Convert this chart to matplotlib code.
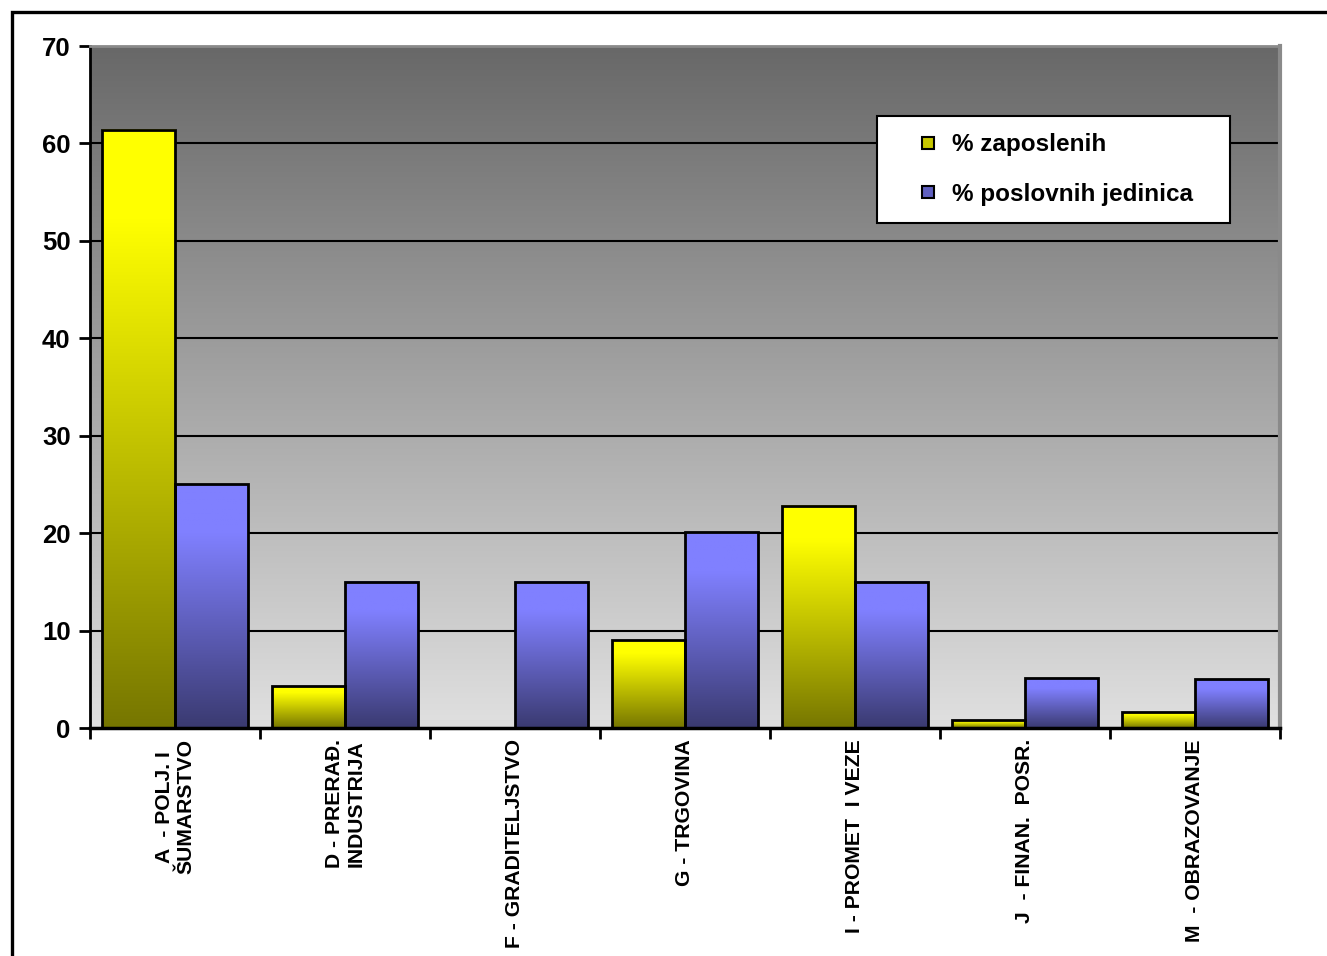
import numpy as np
import matplotlib
matplotlib.use("Agg")
import matplotlib.pyplot as plt
from matplotlib.colors import LinearSegmentedColormap
from matplotlib.lines import Line2D
from matplotlib.patches import Rectangle

# --- Data ---
categories = [
    "A  - POLJ. I\nŠUMARSTVO",
    "D - PRERAĐ.\nINDUSTRIJA",
    "F - GRADITELJSTVO",
    "G - TRGOVINA",
    "I - PROMET  I VEZE",
    "J  - FINAN.  POSR.",
    "M  - OBRAZOVANJE",
]
zaposlenih = [61.4, 4.3, 0.0, 9.0, 22.8, 0.8, 1.6]
poslovnih_jedinica = [25.0, 15.0, 15.0, 20.1, 15.0, 5.1, 5.0]
series_names = ["% zaposlenih", "% poslovnih jedinica"]
y_ticks = [0, 10, 20, 30, 40, 50, 60, 70]

plt.rcParams["font.family"] = ["Liberation Sans", "DejaVu Sans"]
plt.rcParams["font.weight"] = "bold"

W, H = 1327, 956
fig = plt.figure(figsize=(W / 100, H / 100), dpi=100)
ax = fig.add_axes([90 / W, (H - 728) / H, 1190 / W, 682 / H])

x = np.arange(len(categories))
bw = 0.43
xmin, xmax = -0.5, len(categories) - 0.5

# gray gradient background, dark at top
bg = LinearSegmentedColormap.from_list("bg", ["#e0e0e0", "#686868"])
ax.imshow(np.linspace(0, 1, 256).reshape(-1, 1), cmap=bg, origin="lower",
          extent=[xmin, xmax, 0, 70], aspect="auto", zorder=0)

for yv in y_ticks[1:-1]:
    ax.axhline(yv, color="black", lw=1.5, zorder=1)

yellow = LinearSegmentedColormap.from_list("yel", [(0, "#767600"), (0.85, "#ffff00"), (1, "#ffff00")])
blue = LinearSegmentedColormap.from_list("blu", [(0, "#3a3a70"), (0.8, "#8080ff"), (1, "#8080ff")])

grad = np.linspace(0, 1, 256).reshape(-1, 1)
for vals, off, cmap in [(zaposlenih, -bw / 2, yellow), (poslovnih_jedinica, bw / 2, blue)]:
    bars = ax.bar(x + off, vals, width=bw, facecolor="none", edgecolor="black",
                  linewidth=2, zorder=3)
    for b in bars:
        if b.get_height() <= 0:
            b.set_visible(False)
            continue
        ax.imshow(grad, cmap=cmap, origin="lower", aspect="auto", zorder=2,
                  extent=[b.get_x(), b.get_x() + b.get_width(), 0, b.get_height()])

ax.set_xlim(xmin, xmax)
ax.set_ylim(0, 70)

# axes styling
ax.set_yticks(y_ticks)
ax.tick_params(axis="y", direction="out", length=8, width=2, pad=6, labelsize=18.5)
ax.set_xticks(x)
ax.set_xticklabels(categories, rotation=90, ha="center", va="top", fontsize=15.2,
                   fontweight="bold")
ax.set_xticks(np.arange(xmin, xmax + 0.5), minor=True)
ax.tick_params(axis="x", which="major", length=0, pad=8)
ax.tick_params(axis="x", which="minor", direction="out", length=8, width=2)
for lbl in ax.get_xticklabels():
    lbl.set_multialignment("center")
for lbl in ax.get_yticklabels():
    lbl.set_fontweight("bold")

ax.spines["left"].set_linewidth(2)
ax.spines["bottom"].set_linewidth(2.5)
ax.spines["top"].set_color("#8a8a8a")
ax.spines["top"].set_linewidth(2)
ax.spines["right"].set_color("#8a8a8a")
ax.spines["right"].set_linewidth(3)
for s in ax.spines.values():
    s.set_zorder(4)

# legend
handles = [
    Line2D([], [], linestyle="none", marker="s", markersize=9, markerfacecolor="#c8c800",
           markeredgecolor="black", markeredgewidth=1.5),
    Line2D([], [], linestyle="none", marker="s", markersize=9, markerfacecolor="#6060c0",
           markeredgecolor="black", markeredgewidth=1.5),
]
leg = ax.legend(handles, series_names, loc="upper left",
                bbox_to_anchor=(0.661, 0.743, 0.297, 0.154), mode="expand",
                fancybox=False, shadow=False, framealpha=1, edgecolor="black",
                prop={"size": 17.5, "weight": "bold"}, numpoints=1,
                handlelength=2.85, handletextpad=-0.45, labelspacing=1.1,
                borderpad=0.7, borderaxespad=0)
leg.get_frame().set_linewidth(1.5)
leg.set_zorder(5)

# outer frame
fig.patches.append(Rectangle((12 / W, -0.1), 1.2, 1.1 - 12 / H, transform=fig.transFigure,
                             fill=False, edgecolor="black", linewidth=2.4))

fig.savefig("out.png", dpi=100)
